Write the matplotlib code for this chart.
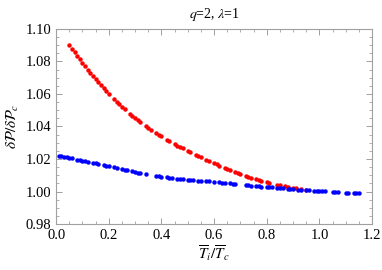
import numpy as np
import matplotlib.pyplot as plt
from matplotlib.ticker import MultipleLocator

# red branch
red_x = [0.05, 0.06, 0.07, 0.08, 0.09, 0.10, 0.11, 0.12, 0.13, 0.14, 0.15, 0.16,
         0.17, 0.18, 0.19, 0.20, 0.22, 0.23, 0.24, 0.25, 0.26, 0.28, 0.29, 0.30,
         0.31, 0.32, 0.34, 0.35, 0.36, 0.38, 0.39, 0.40, 0.42, 0.43, 0.45, 0.46,
         0.47, 0.48, 0.50, 0.51, 0.53, 0.54, 0.55, 0.57, 0.58, 0.60, 0.61, 0.62,
         0.64, 0.65, 0.66, 0.68, 0.69, 0.70, 0.72, 0.73, 0.74, 0.76, 0.77, 0.78,
         0.80, 0.81, 0.84, 0.85, 0.87, 0.88, 0.90, 0.91, 0.93, 0.95]
red_y = [1.0900, 1.0878, 1.0856, 1.0834, 1.0812, 1.0790, 1.0769, 1.0749, 1.0729,
         1.0709, 1.0690, 1.0672, 1.0654, 1.0636, 1.0618, 1.0600, 1.0568, 1.0552,
         1.0536, 1.0520, 1.0506, 1.0478, 1.0464, 1.0450, 1.0438, 1.0426, 1.0402,
         1.0390, 1.0380, 1.0360, 1.0350, 1.0340, 1.0320, 1.0310, 1.0290, 1.0282,
         1.0274, 1.0266, 1.0250, 1.0242, 1.0226, 1.0218, 1.0210, 1.0196, 1.0189,
         1.0175, 1.0167, 1.0160, 1.0146, 1.0139, 1.0132, 1.0120, 1.0114, 1.0108,
         1.0097, 1.0091, 1.0086, 1.0075, 1.0070, 1.0066, 1.0058, 1.0054, 1.0043,
         1.0040, 1.0033, 1.0030, 1.0024, 1.0021, 1.0016, 1.0011]

# blue branch
blue_x = [0.01, 0.02, 0.03, 0.04, 0.05, 0.06, 0.08, 0.09, 0.10, 0.11, 0.12, 0.14,
          0.15, 0.16, 0.18, 0.19, 0.20, 0.22, 0.23, 0.25, 0.26, 0.27, 0.29, 0.30,
          0.31, 0.32, 0.34, 0.38, 0.39, 0.40, 0.42, 0.43, 0.44, 0.46, 0.47, 0.48,
          0.50, 0.51, 0.52, 0.54, 0.55, 0.57, 0.58, 0.60, 0.62, 0.63, 0.64, 0.66,
          0.67, 0.68, 0.72, 0.73, 0.74, 0.76, 0.77, 0.78, 0.80, 0.81, 0.82, 0.84,
          0.85, 0.86, 0.88, 0.89, 0.90, 0.92, 0.93, 0.95, 0.96, 0.98, 0.99, 1.00,
          1.01, 1.02, 1.05, 1.06, 1.07, 1.10, 1.11, 1.13, 1.14, 1.15]
blue_y = [1.0221, 1.0218, 1.0214, 1.0211, 1.0207, 1.0204, 1.0197, 1.0194, 1.0190,
          1.0187, 1.0183, 1.0176, 1.0173, 1.0169, 1.0162, 1.0159, 1.0155, 1.0148,
          1.0145, 1.0138, 1.0135, 1.0131, 1.0124, 1.0120, 1.0117, 1.0114, 1.0108,
          1.0096, 1.0093, 1.0090, 1.0087, 1.0085, 1.0083, 1.0079, 1.0078, 1.0076,
          1.0073, 1.0072, 1.0070, 1.0067, 1.0066, 1.0063, 1.0062, 1.0059, 1.0056,
          1.0054, 1.0053, 1.0050, 1.0048, 1.0047, 1.0041, 1.0039, 1.0037, 1.0034,
          1.0032, 1.0031, 1.0028, 1.0027, 1.0025, 1.0022, 1.0021, 1.0020, 1.0017,
          1.0016, 1.0015, 1.0012, 1.0011, 1.0008, 1.0007, 1.0005, 1.0004, 1.0003,
          1.0002, 1.0001, 0.9999, 0.9998, 0.9997, 0.9994, 0.9993, 0.9991, 0.9990,
          0.9989]

plt.rcParams['font.family'] = 'Liberation Serif'
plt.rcParams['mathtext.fontset'] = 'stix'

fig = plt.figure(figsize=(3.82, 2.70), dpi=100)
ax = fig.add_axes([0.147, 0.170, 0.827, 0.723])

ax.plot(red_x, red_y, 'o', color='#ff0000', markersize=3.2, markeredgewidth=0)
ax.plot(blue_x, blue_y, 'o', color='#0000ff', markersize=3.2, markeredgewidth=0)

ax.set_xlim(0, 1.2)
ax.set_ylim(0.98, 1.10)
ax.xaxis.set_major_locator(MultipleLocator(0.2))
ax.xaxis.set_minor_locator(MultipleLocator(0.05))
ax.yaxis.set_major_locator(MultipleLocator(0.02))
ax.yaxis.set_minor_locator(MultipleLocator(0.005))
ax.xaxis.set_major_formatter(plt.FormatStrFormatter('%.1f'))
ax.yaxis.set_major_formatter(plt.FormatStrFormatter('%.2f'))

for s in ax.spines.values():
    s.set_color('#a0a0a0')
    s.set_linewidth(0.8)
ax.tick_params(which='both', direction='in', top=True, right=True,
               color='#a0a0a0', labelsize=10.5, labelcolor='black')
ax.tick_params(which='major', length=4, width=0.7)
ax.tick_params(which='minor', length=2, width=0.6)

ax.set_xlabel(r'$\overline{T}_i/\overline{T}_c$', fontsize=11, labelpad=1)
ax.set_ylabel(r'$\delta\mathcal{P}/\delta\mathcal{P}_c$', fontsize=11, labelpad=3)
ax.set_title(r'$q$=2, $\lambda$=1', fontsize=10, pad=8)

fig.savefig('out.png', dpi=100)
